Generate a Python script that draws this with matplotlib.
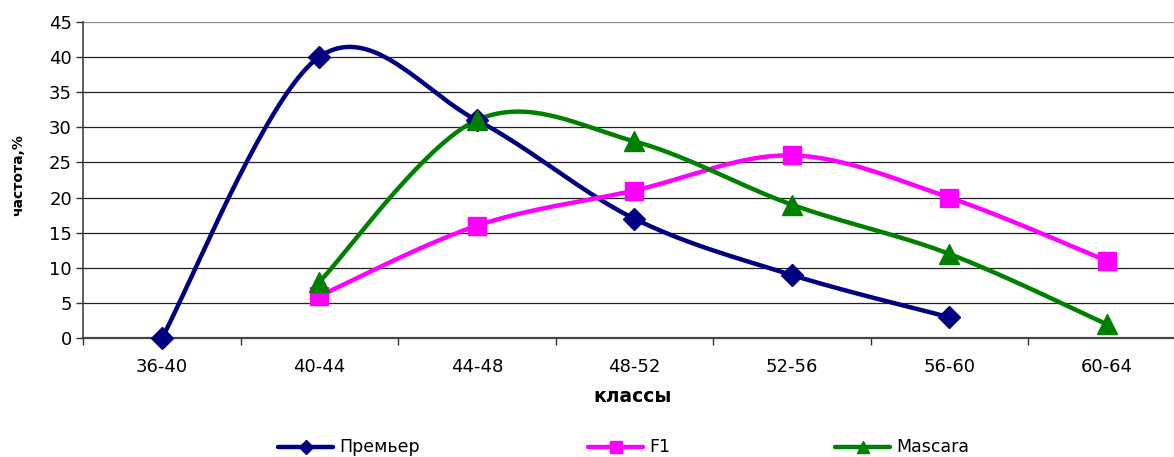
import numpy as np
import matplotlib
matplotlib.use("Agg")
import matplotlib.pyplot as plt
from matplotlib.lines import Line2D

categories = ["36-40", "40-44", "44-48", "48-52", "52-56", "56-60", "60-64"]
premier_x = [0, 1, 2, 3, 4, 5]
premier = [0, 40, 31, 17, 9, 3]
f1_x = [1, 2, 3, 4, 5, 6]
f1 = [6, 16, 21, 26, 20, 11]
mascara_x = [1, 2, 3, 4, 5, 6]
mascara = [8, 31, 28, 19, 12, 2]

plt.rcParams['font.family'] = ['DejaVu Sans']


def smooth(xs, ys, n=40):
    P = np.column_stack([xs, ys]).astype(float)
    out = []
    for i in range(len(P) - 1):
        p0 = P[i - 1] if i > 0 else P[i]
        p1 = P[i]
        p2 = P[i + 1]
        p3 = P[i + 2] if i + 2 < len(P) else P[i + 1]
        c1 = p1 + (p2 - p0) / 6.0
        c2 = p2 - (p3 - p1) / 6.0
        t = np.linspace(0, 1, n)[:, None]
        seg = ((1 - t) ** 3) * p1 + 3 * t * (1 - t) ** 2 * c1 + 3 * t ** 2 * (1 - t) * c2 + t ** 3 * p2
        out.append(seg if i == 0 else seg[1:])
    a = np.vstack(out)
    return a[:, 0], a[:, 1]


W, H = 1174, 457
fig = plt.figure(figsize=(W / 100, H / 100), dpi=100)
left, right = 83 / W, 1185.5 / W
bottom, top = 1 - 338.3 / H, 1 - 21.7 / H
ax = fig.add_axes([left, bottom, right - left, top - bottom])

series = [
    (premier_x, premier, "#000080", "D", 11, "Премьер", 7),
    (f1_x, f1, "#FF00FF", "s", 13, "F1", 8),
    (mascara_x, mascara, "#008000", "^", 15, "Mascara", 9),
]
for xs, ys, c, m, ms, lab, lms in series:
    sx, sy = smooth(xs, ys)
    ax.plot(sx, sy, color=c, lw=3.2, solid_capstyle='round', zorder=3, clip_on=False)
    ax.plot(xs, ys, ls='none', marker=m, ms=ms, color=c, mec=c, zorder=4, clip_on=False)

ax.set_xlim(-0.5, 6.5)
ax.set_ylim(0, 45)
ax.set_yticks(np.arange(0, 46, 5))
ax.set_xticks(range(len(categories)))
ax.set_xticklabels(categories)
ax.set_xticks(np.arange(-0.5, 6.6, 1), minor=True)
ax.tick_params(axis='x', which='major', length=0, labelsize=13, pad=14)
ax.tick_params(axis='x', which='minor', length=5, width=1, color='#333333', direction='out')
ax.tick_params(axis='y', length=5, width=1, color='#333333', direction='out', labelsize=13, pad=3)

for y in np.arange(5, 46, 5):
    ax.axhline(y, color='#222222' if y < 45 else '#888888', lw=0.9, zorder=1)

for s in ['top', 'right']:
    ax.spines[s].set_visible(False)
ax.spines['left'].set_color('#333333')
ax.spines['left'].set_linewidth(1.1)
ax.spines['bottom'].set_color('#444444')
ax.spines['bottom'].set_linewidth(1.6)

fig.text(18 / W, 1 - 175 / H, "частота,%", rotation=90, ha='center', va='center',
         fontsize=10, fontweight='bold')
fig.text(633 / W, 1 - 396 / H, "классы", ha='center', va='center',
         fontsize=13.5, fontweight='bold')

# legend drawn manually
leg_y = 1 - 447 / H
leg_starts = [278, 588, 835]
for (xs, ys, c, m, ms, lab, lms), x0 in zip(series, leg_starts):
    x1 = x0 + 55
    fig.add_artist(Line2D([x0 / W, x1 / W], [leg_y, leg_y], transform=fig.transFigure,
                          color=c, lw=3.2, solid_capstyle='round'))
    fig.add_artist(Line2D([(x0 + x1) / 2 / W], [leg_y], transform=fig.transFigure,
                          color=c, marker=m, ms=lms, mec=c, ls='none'))
    fig.text((x1 + 6) / W, leg_y, lab, ha='left', va='center', fontsize=12.5)

fig.savefig("out.png", dpi=100)
